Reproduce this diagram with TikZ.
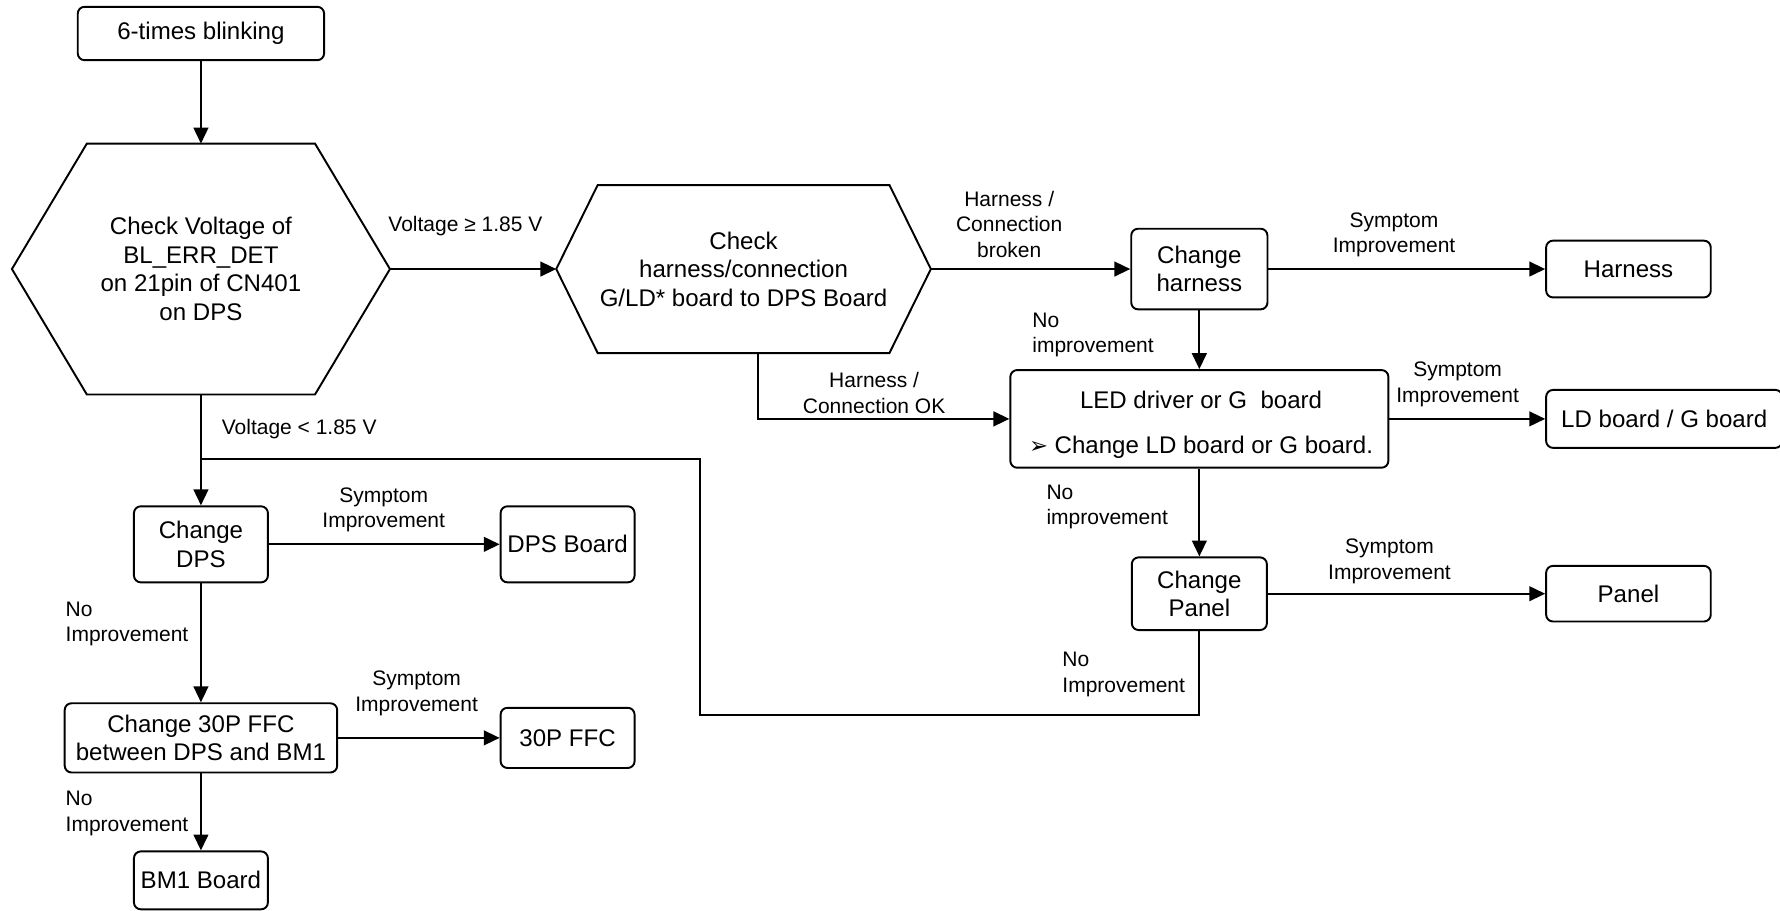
\documentclass[tikz,border=0pt]{standalone}
\usepackage{fontspec}
\setmainfont{Liberation Sans}
\newfontfamily\dejavu{DejaVu Sans}
\usetikzlibrary{arrows.meta}
\newcommand\nfont{\fontsize{10.6pt}{12.6pt}\selectfont}
\newcommand\lfont{\fontsize{9.25pt}{11.3pt}\selectfont}
\begin{document}
\begin{tikzpicture}[x=0.5pt,y=-0.5pt,
 box/.style={draw, rounded corners=3pt, line width=0.85pt, align=center, font=\nfont, inner sep=0pt},
 hexnode/.style={inner sep=0pt, outer sep=0pt, align=center, font=\nfont},
 plaintext/.style={inner sep=0pt, align=center, font=\nfont},
 lbl/.style={font=\lfont, align=center, inner sep=0pt},
 lbll/.style={font=\lfont, align=left, inner sep=0pt, anchor=west},
 arr/.style={line width=0.85pt, -{Triangle[length=7pt,width=6.5pt]}},
 ln/.style={line width=0.85pt},
 hexline/.style={line width=0.85pt, line join=miter}
]
\useasboundingbox (0,0) rectangle (1568,802);
\clip (0,0) rectangle (1568,802);

% nodes
\node[box, minimum width=108.5pt, minimum height=23.5pt] (a) at (177,29.5) {6-times blinking};
\node[hexnode, minimum width=166.5pt, minimum height=110.5pt] (h1) at (177,237)
  {Check Voltage of\\BL\_ERR\_DET\\on 21pin of CN401\\on DPS};
\draw[hexline] (h1.west) -- ([xshift=33pt]h1.north west) -- ([xshift=-33pt]h1.north east)
  -- (h1.east) -- ([xshift=-33pt]h1.south east) -- ([xshift=33pt]h1.south west) -- cycle;

\node[hexnode, minimum width=165pt, minimum height=74pt] (h2) at (655,237)
  {Check\\harness/connection\\G/LD* board to DPS Board};
\draw[hexline] (h2.west) -- ([xshift=18.25pt]h2.north west) -- ([xshift=-18.25pt]h2.north east)
  -- (h2.east) -- ([xshift=-18.25pt]h2.south east) -- ([xshift=18.25pt]h2.south west) -- cycle;

\node[box, minimum width=60pt, minimum height=35.5pt] (ch) at (1056.5,237) {Change\\harness};
\node[box, minimum width=72.5pt, minimum height=25pt] (harn) at (1434.5,237) {Harness};
\node[box, minimum width=166.5pt, minimum height=43pt] (led) at (1056.5,369) {};
\node[plaintext] (ledt) at (1058,374) {LED driver or G\ \ board\\[7.2pt]{\dejavu\fontsize{10pt}{12.6pt}\selectfont ➢} Change LD board or G board.};
\node[box, minimum width=104pt, minimum height=25.5pt] (ldb) at (1466,369) {LD board / G board};
\node[box, minimum width=59.5pt, minimum height=32pt] (cp) at (1056.5,523) {Change\\Panel};
\node[box, minimum width=72.5pt, minimum height=24.5pt] (panel) at (1434.5,523) {Panel};

\node[box, minimum width=59pt, minimum height=33.5pt] (cd) at (177,479.5) {Change\\DPS};
\node[box, minimum width=59pt, minimum height=33.5pt] (dps) at (500,479.5) {DPS Board};
\node[box, minimum width=120pt, minimum height=30.5pt] (cf) at (177,650) {Change 30P FFC\\between DPS and BM1};
\node[box, minimum width=59pt, minimum height=26.5pt] (ffc) at (500,650) {30P FFC};
\node[box, minimum width=59pt, minimum height=25.5pt] (bm1) at (177,775.5) {BM1 Board};

\coordinate (loopA) at (617,630);
\coordinate (join) at (177,404);

% connectors
\draw[arr] (a.south) -- (h1.north);
\draw[arr] (h1.east) -- (h2.west);
\draw[arr] (h2.east) -- (ch.west);
\draw[arr] (ch.east) -- (harn.west);
\draw[arr] (ch.south) -- (led.north);
\draw[arr] ([xshift=6.5pt]h2.south) |- (led.west);
\draw[arr] (led.east) -- (ldb.west);
\draw[arr] (led.south) -- (cp.north);
\draw[arr] (cp.east) -- (panel.west);
\draw[ln] (cp.south) |- (loopA) |- (join);
\draw[arr] (h1.south) -- (cd.north);
\draw[arr] (cd.east) -- (dps.west);
\draw[arr] (cd.south) -- (cf.north);
\draw[arr] (cf.east) -- (ffc.west);
\draw[arr] (cf.south) -- (bm1.north);

% labels
\node[lbl] (l1) at (410,199) {Voltage ≥ 1.85 V};
\node[lbll] (l2) at (195,378) {Voltage < 1.85 V};
\node[lbl] (l3) at (889,197.5) {Harness /\\Connection\\broken};
\node[lbl] (l4) at (1228,207) {Symptom\\Improvement};
\node[lbll] (l5) at (909,295) {No\\improvement};
\node[lbl] (l6) at (770,346) {Harness /\\Connection OK};
\node[lbl] (l7) at (1284,338.5) {Symptom\\Improvement};
\node[lbll] (l8) at (921.5,446.5) {No\\improvement};
\node[lbl] (l9) at (1224,494.5) {Symptom\\Improvement};
\node[lbll] (l10) at (935.5,594) {No\\Improvement};
\node[lbl] (l11) at (338,449) {Symptom\\Improvement};
\node[lbll] (l12) at (57.5,549.5) {No\\Improvement};
\node[lbl] (l13) at (367,610.5) {Symptom\\Improvement};
\node[lbll] (l14) at (57.5,716.5) {No\\Improvement};
\end{tikzpicture}
\end{document}
